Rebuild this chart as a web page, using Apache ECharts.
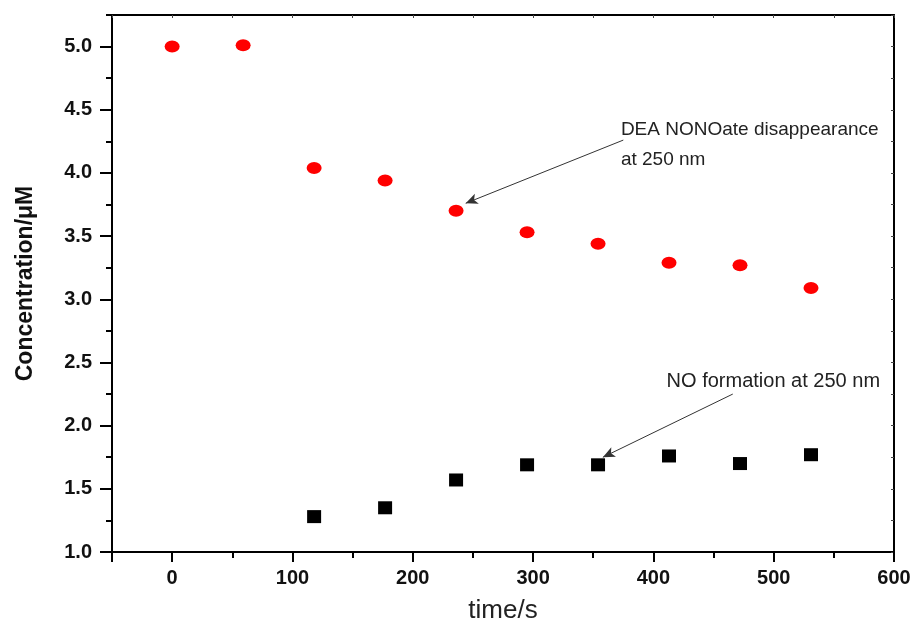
<!DOCTYPE html>
<html>
<head>
<meta charset="utf-8">
<script src="https://cdn.jsdelivr.net/npm/echarts@6/dist/echarts.min.js"></script>
<style>
  html, body { margin: 0; padding: 0; background: #fff; }
  #chart { width: 916px; height: 625px; }
</style>
</head>
<body>
<div id="chart"></div>
<script>
// data
const times = [0, 59, 118, 177, 236, 295, 354, 413, 472, 531]
const deaValues = [5.0, 5.01, 4.04, 3.94, 3.70, 3.53, 3.44, 3.29, 3.27, 3.09]
const noTimes = [118, 177, 236, 295, 354, 413, 472, 531]
const noValues = [1.28, 1.35, 1.57, 1.69, 1.69, 1.76, 1.70, 1.77]

// tick labels
const xMajor = [-50, 0, 100, 200, 300, 400, 500, 600]
const xLabels = [0, 100, 200, 300, 400, 500, 600]
const xMinor = [50, 150, 250, 350, 450, 550]
const yMajor = [1.0, 1.5, 2.0, 2.5, 3.0, 3.5, 4.0, 4.5, 5.0]
const yMinor = [1.25, 1.75, 2.25, 2.75, 3.25, 3.75, 4.25, 4.75, 5.25]

// annotations (data coords)
const deaLabel = 'DEA NONOate disappearance\nat 250 nm'
const deaArrow = [[375, 4.26], [244, 3.76]]
const noLabel = 'NO formation at 250 nm'
const noArrow = [[466, 2.25], [358, 1.75]]

const chart = echarts.init(document.getElementById('chart'))

const lineStyle = { color: '#000', width: 2 }
const tickStyle = { color: '#000', width: 2 }
const fontFamily = 'Liberation Sans, Arial, sans-serif'

const baseX = {
  type: 'value', min: -50, max: 600,
  axisLine: { show: true, onZero: false, lineStyle },
  splitLine: { show: false }
}
const baseY = {
  type: 'value', min: 1.0, max: 5.25,
  axisLine: { show: true, onZero: false, lineStyle },
  splitLine: { show: false }
}

const option = {
  animation: false,
  grid: { left: 112, right: 22, top: 15, bottom: 73, outerBoundsMode: 'none', containLabel: false },
  xAxis: [
    {
      ...baseX,
      position: 'bottom',
      name: 'time/s',
      nameLocation: 'middle',
      nameGap: 46,
      nameTextStyle: { fontSize: 26, color: '#222', fontFamily },
      axisTick: { show: true, customValues: xMajor, length: 10, lineStyle: tickStyle },
      axisLabel: {
        customValues: xLabels, margin: 16,
        fontSize: 20, fontWeight: 'bold', color: '#111', fontFamily
      }
    },
    {
      ...baseX,
      position: 'bottom',
      axisLine: { show: false, onZero: false },
      axisTick: { show: true, customValues: xMinor, length: 6, lineStyle: tickStyle },
      axisLabel: { show: false }
    },
    {
      ...baseX,
      position: 'top',
      axisTick: { show: true, inside: true, customValues: xMajor.concat(xMinor), length: 3, lineStyle: { color: '#444', width: 1 } },
      axisLabel: { show: false }
    }
  ],
  yAxis: [
    {
      ...baseY,
      position: 'left',
      name: 'Concentration/\u03bcM',
      nameLocation: 'middle',
      nameGap: 75,
      nameTextStyle: { fontSize: 23, fontWeight: 'bold', color: '#111', fontFamily },
      axisTick: { show: true, customValues: yMajor, length: 12, lineStyle: tickStyle },
      axisLabel: {
        customValues: yMajor, margin: 20,
        fontSize: 20, fontWeight: 'bold', color: '#111', fontFamily,
        formatter: v => v.toFixed(1)
      }
    },
    {
      ...baseY,
      position: 'left',
      axisLine: { show: false, onZero: false },
      axisTick: { show: true, customValues: yMinor, length: 6, lineStyle: tickStyle },
      axisLabel: { show: false }
    },
    {
      ...baseY,
      position: 'right',
      axisTick: { show: true, inside: true, customValues: yMajor.concat(yMinor), length: 3, lineStyle: { color: '#444', width: 1 } },
      axisLabel: { show: false }
    }
  ],
  series: [
    {
      name: 'DEA NONOate',
      type: 'scatter',
      symbol: 'circle',
      symbolSize: [15, 12],
      itemStyle: { color: '#ff0000', opacity: 1 },
      data: times.map((t, i) => [t, deaValues[i]]),
      markLine: {
        silent: true,
        symbol: ['none', 'arrow'],
        symbolSize: [8, 12],
        lineStyle: { color: '#333', width: 1, type: 'solid' },
        label: { show: false },
        data: [
          [{ coord: deaArrow[0] }, { coord: deaArrow[1] }],
          [{ coord: noArrow[0] }, { coord: noArrow[1] }]
        ]
      },
      markPoint: {
        silent: true,
        symbol: 'circle',
        symbolSize: 0,
        data: [
          {
            coord: [373, 4.22],
            label: {
              show: true, position: 'right', distance: 0, formatter: deaLabel,
              fontSize: 19, lineHeight: 30, color: '#222', fontFamily, align: 'left', verticalAlign: 'middle'
            }
          },
          {
            coord: [411, 2.35],
            label: {
              show: true, position: 'right', distance: 0, formatter: noLabel,
              fontSize: 20, color: '#222', fontFamily, align: 'left', verticalAlign: 'middle'
            }
          }
        ]
      }
    },
    {
      name: 'NO',
      type: 'scatter',
      symbol: 'rect',
      symbolSize: [14, 13],
      itemStyle: { color: '#000', opacity: 1 },
      data: noTimes.map((t, i) => [t, noValues[i]])
    }
  ]
}

chart.setOption(option)
</script>
</body>
</html>
